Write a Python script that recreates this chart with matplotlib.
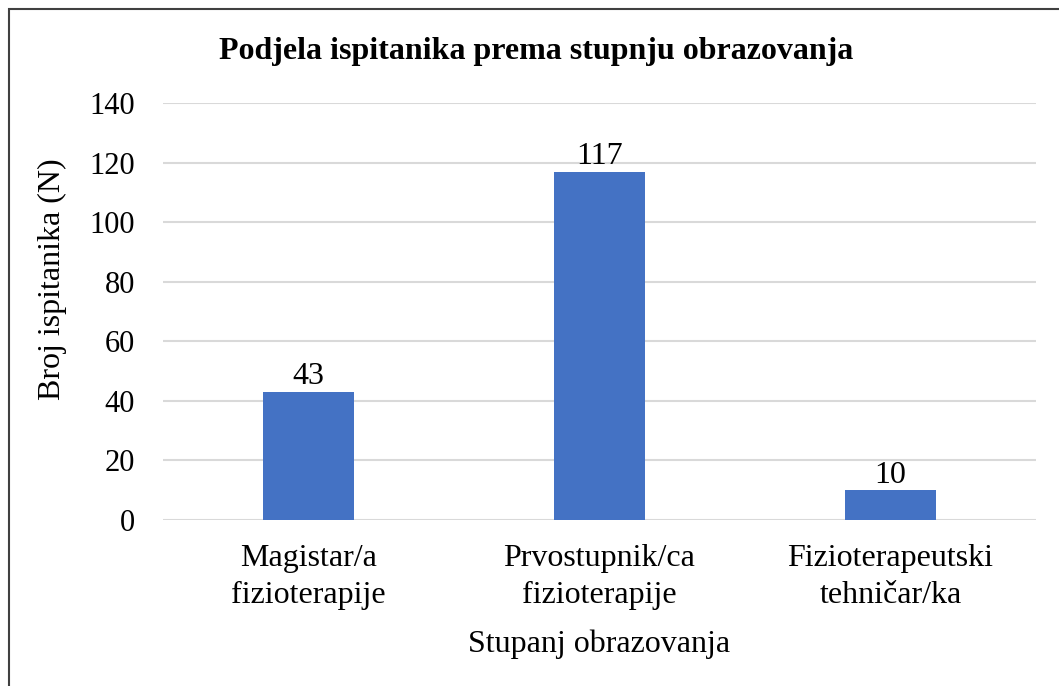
import matplotlib.pyplot as plt
from matplotlib.patches import Rectangle

# data
categories = ["Magistar/a\nfizioterapije", "Prvostupnik/ca\nfizioterapije", "Fizioterapeutski\ntehničar/ka"]
counts = [43, 117, 10]
yticks = [0, 20, 40, 60, 80, 100, 120, 140]

plt.rcParams['font.family'] = ['Liberation Serif', 'DejaVu Serif']

fig = plt.figure(figsize=(10.59, 6.86), dpi=100)
ax = fig.add_axes([163 / 1059, 1 - 520 / 686, (1036 - 163) / 1059, (520 - 103) / 686])

x = range(len(categories))
bars = ax.bar(x, counts, width=0.316, color="#4472C4", zorder=3)
for b, v in zip(bars, counts):
    ax.text(b.get_x() + b.get_width() / 2, v + 0.2, str(v), ha="center", va="bottom", fontsize=23)

ax.set_xlim(-0.5, 2.5)
ax.set_ylim(0, 140)
ax.set_yticks(yticks)
ax.set_xticks(list(x))
ax.set_xticklabels(categories, fontsize=23, linespacing=1.4)
ax.tick_params(axis="y", length=0, pad=20, labelsize=22)
ax.tick_params(axis="x", length=0, pad=17)
ax.grid(axis="y", color="#d9d9d9", linewidth=1.5, zorder=0)
for s in ax.spines.values():
    s.set_visible(False)

ax.set_ylabel("Broj ispitanika (N)", fontsize=23)
ax.yaxis.set_label_coords(-0.11, 0.578)
ax.set_xlabel("Stupanj obrazovanja", fontsize=23, labelpad=14)

fig.text(536 / 1059, 1 - 52 / 686, "Podjela ispitanika prema stupnju obrazovanja",
         ha="center", va="center", fontsize=23, fontweight="bold")

# outer border (runs off the right/bottom edge)
fig.patches.append(Rectangle((9 / 1059, -0.1), 1.2, 1 - 9 / 686 + 0.1, transform=fig.transFigure,
                             fill=False, edgecolor="#404040", linewidth=1.5))

fig.savefig("out.png", dpi=100)
